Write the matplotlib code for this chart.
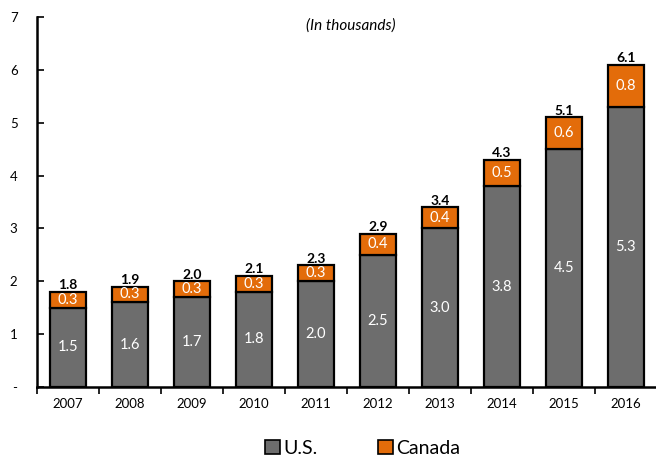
import numpy as np
import matplotlib
matplotlib.use("Agg")
import matplotlib.pyplot as plt
from matplotlib.patches import Patch
from matplotlib.ticker import FixedLocator

plt.rcParams['font.family'] = ['Lato', 'DejaVu Sans']

# data (in thousands)
years = ['2007', '2008', '2009', '2010', '2011', '2012', '2013', '2014', '2015', '2016']
us = [1.5, 1.6, 1.7, 1.8, 2.0, 2.5, 3.0, 3.8, 4.5, 5.3]
canada = [0.3, 0.3, 0.3, 0.3, 0.3, 0.4, 0.4, 0.5, 0.6, 0.8]
totals = [1.8, 1.9, 2.0, 2.1, 2.3, 2.9, 3.4, 4.3, 5.1, 6.1]
y_ticks = [0, 1, 2, 3, 4, 5, 6, 7]
y_labels = ['-', '1', '2', '3', '4', '5', '6', '7']

gray = '#6d6d6d'
orange = '#e36c0a'

fig = plt.figure(figsize=(6.56, 4.59), dpi=100)
ax = fig.add_axes([0.0564, 0.157, 0.945, 0.806])

x = np.arange(len(years))
w = 0.58
ax.bar(x, us, w, color=gray, edgecolor='black', linewidth=1.6, zorder=2)
ax.bar(x, canada, w, bottom=us, color=orange, edgecolor='black', linewidth=1.6, zorder=2)

# labels inside and on top of bars
for i in range(len(years)):
    ax.text(x[i], us[i] / 2, f'{us[i]:.1f}', ha='center', va='center',
            color='white', fontsize=10.5)
    ax.text(x[i], us[i] + canada[i] / 2, f'{canada[i]:.1f}', ha='center', va='center',
            color='white', fontsize=10.5)
    ax.text(x[i], us[i] + canada[i] + 0.01, f'{totals[i]:.1f}', ha='center', va='bottom',
            color='black', fontsize=10, fontweight='bold')

ax.set_xlim(-0.5, len(years) - 0.5)
ax.set_ylim(0, 7)

# x ticks between categories, labels at centers
ax.set_xticks(x)
ax.set_xticklabels(years, fontsize=9.5)
ax.tick_params(axis='x', which='major', length=0, pad=8)
ax.xaxis.set_minor_locator(FixedLocator(np.arange(-0.5, len(years), 1.0)))
ax.tick_params(axis='x', which='minor', length=5, width=1.2, direction='out')

ax.set_yticks(y_ticks)
ax.set_yticklabels(y_labels, fontsize=9.5)
ax.tick_params(axis='y', direction='in', length=5, width=1.2, pad=14)

for s in ['top', 'right']:
    ax.spines[s].set_visible(False)
for s in ['left', 'bottom']:
    ax.spines[s].set_linewidth(1.8)

ax.text(0.506, 0.995, '(In thousands)', transform=ax.transAxes, ha='center', va='top',
        fontsize=11, style='italic')

handles = [Patch(facecolor=gray, edgecolor='black', linewidth=1.2, label='U.S.'),
           Patch(facecolor=orange, edgecolor='black', linewidth=1.2, label='Canada')]
fig.legend(handles=handles, loc='lower center', bbox_to_anchor=(0.553, 0.0), ncol=2,
           frameon=False, fontsize=14, handlelength=0.75, handleheight=0.75,
           handletextpad=0.2, columnspacing=3.1, borderpad=0.0, borderaxespad=0.1)

fig.savefig('out.png', dpi=100)
